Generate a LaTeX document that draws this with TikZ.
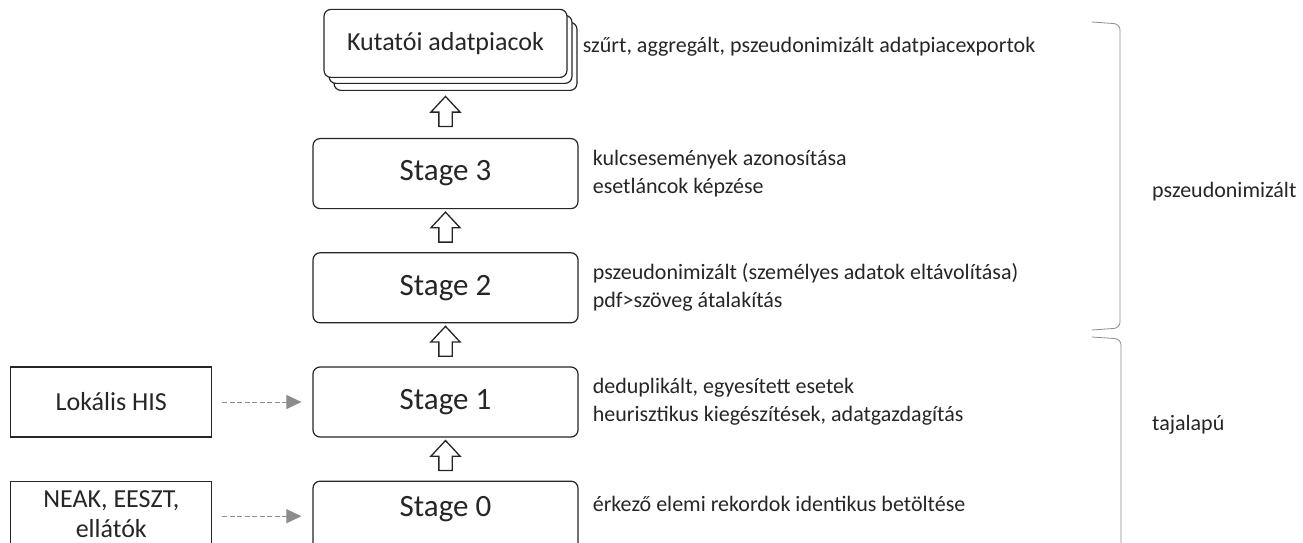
\documentclass[tikz,border=0pt]{standalone}
\usepackage{fontspec}
\setmainfont{Carlito}
\usepackage{tikz}
\usetikzlibrary{arrows.meta,positioning,shapes.arrows,shadows,calc}

\begin{document}
\begin{tikzpicture}[x=1pt,y=1pt,
  every node/.style={text=black!85},
  stagebox/.style={draw=black!85,line width=1.2pt,rounded corners=7pt,fill=white,minimum width=265pt,minimum height=70pt,inner sep=0pt,font=\fontsize{31}{37}\selectfont},
  kutbox/.style={draw=black!85,line width=1.2pt,rounded corners=7pt,fill=white,minimum width=243pt,minimum height=68pt,inner sep=0pt,font=\fontsize{26}{31}\selectfont,
    copy shadow={shadow xshift=10pt,shadow yshift=-13pt},copy shadow={shadow xshift=5pt,shadow yshift=-6pt}},
  srcbox/.style={draw=black!85,line width=1.2pt,fill=white,minimum width=201pt,minimum height=70pt,inner sep=0pt,align=center,font=\fontsize{26}{30}\selectfont},
  desc/.style={align=left,inner sep=0pt,font=\fontsize{22}{28}\selectfont},
  uparr/.style={single arrow,draw=black!85,line width=1.3pt,shape border rotate=90,minimum height=30pt,minimum width=28pt,single arrow head extend=8pt,single arrow tip angle=86,inner sep=6pt},
  feed/.style={draw=black!45,line width=1pt,dash pattern=on 5pt off 2.5pt,-{Triangle[length=15pt,width=14pt]},shorten <=10pt,shorten >=11pt},
  brace/.style={draw=black!45,line width=0.8pt,rounded corners=6pt}]
\path[use as bounding box,clip] (0,0) rectangle (1303,542);

% stages
\node[stagebox] (s1) at (445.5,140) {Stage 1};
\node[stagebox,above=43pt of s1] (s2) {Stage 2};
\node[stagebox,above=43pt of s2] (s3) {Stage 3};
\node[stagebox,below=43pt of s1,text depth=20pt] (s0) {Stage 0};
\node[kutbox,above=60pt of s3] (kut) {Kutatói adatpiacok};

\node[uparr] (u01) at ($(s0.north)!0.5!(s1.south)$) {};
\node[uparr] (u12) at ($(s1.north)!0.5!(s2.south)$) {};
\node[uparr] (u23) at ($(s2.north)!0.5!(s3.south)$) {};
\node[uparr,yshift=-7pt] (u3k) at ($(s3.north)!0.5!(kut.south)$) {};

% sources
\node[srcbox,left=100pt of s1] (his) {Lokális HIS};
\node[srcbox,left=100pt of s0,text depth=4pt] (neak) {NEAK, EESZT,\\ellátók};
\draw[feed] (his) -- (s1);
\draw[feed] (neak) -- (s0);

% descriptions
\node[desc,right=15pt of kut,yshift=-3pt] (dk) {szűrt, aggregált, pszeudonimizált adatpiacexportok};
\node[desc,right=14pt of s3] (d3) {kulcsesemények azonosítása\\esetláncok képzése};
\node[desc,right=14pt of s2] (d2) {pszeudonimizált (személyes adatok eltávolítása)\\pdf>szöveg átalakítás};
\node[desc,right=14pt of s1] (d1) {deduplikált, egyesített esetek\\heurisztikus kiegészítések, adatgazdagítás};
\node[desc,right=14pt of s0,yshift=12pt] (d0) {érkező elemi rekordok identikus betöltése};

% braces
\draw[brace] (1092,520) -- (1120,518) -- (1120,214) -- (1092,212);
\draw[brace] (1092,205) -- (1121,203) -- (1121,-30);
\node[desc,anchor=west] (lp) at (1152,350) {pszeudonimizált};
\node[desc,anchor=west] (lt) at (1152,117) {tajalapú};
\end{tikzpicture}
\end{document}
